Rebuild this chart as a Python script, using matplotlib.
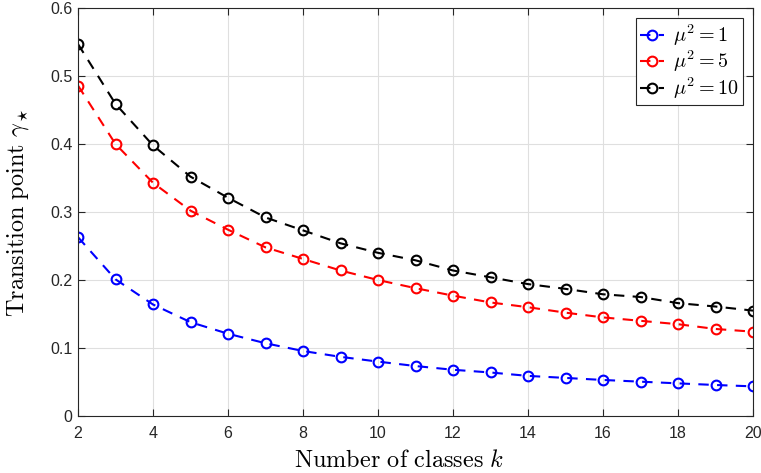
import matplotlib
matplotlib.use("Agg")
import matplotlib.pyplot as plt

plt.rcParams['mathtext.fontset'] = 'cm'

k = list(range(2, 21))
gamma_mu1 = [0.263, 0.201, 0.164, 0.138, 0.121, 0.107, 0.0956, 0.087, 0.080, 0.0735,
             0.068, 0.064, 0.059, 0.056, 0.053, 0.0505, 0.048, 0.0456, 0.0436]
gamma_mu5 = [0.486, 0.400, 0.343, 0.302, 0.274, 0.248, 0.231, 0.214, 0.200, 0.188,
             0.177, 0.167, 0.160, 0.152, 0.145, 0.140, 0.135, 0.128, 0.124]
gamma_mu10 = [0.547, 0.459, 0.398, 0.352, 0.321, 0.292, 0.273, 0.254, 0.240, 0.229,
              0.214, 0.204, 0.194, 0.187, 0.179, 0.175, 0.166, 0.161, 0.155]
labels = [r'$\mu^2 = 1$', r'$\mu^2 = 5$', r'$\mu^2 = 10$']
colors = ['#0000ff', '#ff0000', '#000000']

fig = plt.figure(figsize=(7.61, 4.73), dpi=100)
ax = fig.add_axes([0.1025, 0.1205, 0.887, 0.8625])

for y, c, lab in zip([gamma_mu1, gamma_mu5, gamma_mu10], colors, labels):
    ax.plot(k, y, '--o', color=c, mfc='none', mec=c, lw=1.5, ms=7, mew=1.5,
            dashes=(5, 4), label=lab)

ax.set_xlim(2, 20)
ax.set_ylim(0, 0.6)
ax.set_xticks(range(2, 21, 2))
ax.set_yticks([0, 0.1, 0.2, 0.3, 0.4, 0.5, 0.6])
ax.set_yticklabels(['0', '0.1', '0.2', '0.3', '0.4', '0.5', '0.6'])
ax.grid(True, color='#dfdfdf', lw=0.8)
ax.set_axisbelow(True)
ax.tick_params(direction='in', top=True, right=True, labelsize=11.5, colors='#262626',
               length=5, width=0.8, labelcolor='#262626')
ax.tick_params(axis='x', pad=7)
ax.tick_params(axis='y', pad=4)
for lbl in ax.get_xticklabels() + ax.get_yticklabels():
    lbl.set_family('Liberation Sans')
for sp in ax.spines.values():
    sp.set_color('#262626')
    sp.set_linewidth(0.8)

ax.set_xlabel(r'$\mathrm{Number\ of\ classes}\ k$', fontsize=17.5)
ax.set_ylabel(r'$\mathrm{Transition\ point}\ \gamma_\star$', fontsize=17.5)
ax.xaxis.set_label_coords(0.476, -0.078)
ax.yaxis.set_label_coords(-0.069, 0.5)

leg = ax.legend(loc='upper right', fontsize=14.5, frameon=True, fancybox=False,
                edgecolor='#262626', framealpha=1, borderpad=0.2, handlelength=1.2,
                handletextpad=0.45, labelspacing=0.05, borderaxespad=0.5)
leg.get_frame().set_linewidth(0.8)

fig.savefig('out.png', dpi=100)
